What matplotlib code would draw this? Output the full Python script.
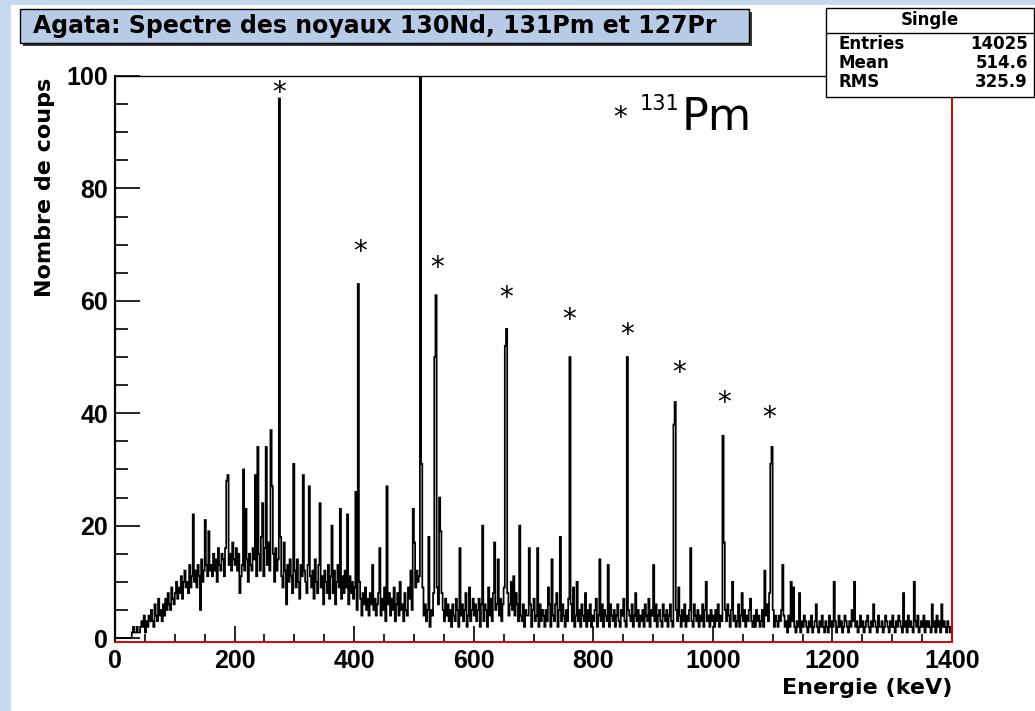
import numpy as np
import matplotlib.pyplot as plt
from matplotlib.patches import Rectangle
from matplotlib.transforms import offset_copy

plt.rcParams['font.family'] = ['DejaVu Sans']

# --- spectre "Single", pas de 2 keV, 0 -> 1400 keV ---
bin_width = 2
counts = [
    0, 0, 0, 0, 0, 0, 0, 0, 0, 0, 0, 0, 0, 0, 1, 2, 1, 1, 2, 1,
    1, 2, 3, 2, 4, 1, 3, 2, 4, 3, 5, 3, 2, 6, 4, 3, 7, 4, 5, 3,
    6, 4, 7, 5, 8, 6, 5, 9, 7, 6, 8, 10, 7, 9, 8, 11, 7, 10, 12, 9,
    10, 8, 13, 9, 11, 22, 10, 12, 9, 13, 11, 5, 14, 10, 12, 21, 13, 11, 19, 12,
    13, 11, 15, 12, 14, 10, 16, 13, 12, 15, 14, 11, 16, 28, 29, 13, 15, 12, 17, 14,
    13, 16, 12, 15, 8, 11, 13, 30, 12, 23, 14, 10, 15, 13, 12, 16, 14, 29, 11, 34,
    15, 12, 18, 24, 11, 16, 34, 13, 17, 12, 37, 27, 15, 10, 16, 12, 14, 96, 18, 11,
    9, 17, 12, 6, 13, 10, 14, 11, 8, 31, 12, 9, 14, 10, 7, 13, 11, 29, 12, 10,
    8, 13, 27, 11, 9, 12, 7, 14, 10, 8, 13, 24, 9, 11, 6, 12, 10, 8, 13, 7,
    11, 20, 8, 12, 6, 10, 13, 9, 23, 7, 11, 8, 12, 9, 22, 6, 11, 8, 10, 7,
    9, 26, 5, 63, 10, 7, 4, 8, 6, 9, 5, 7, 4, 8, 6, 13, 5, 7, 4, 6,
    8, 16, 4, 7, 5, 9, 3, 27, 6, 8, 4, 7, 5, 9, 3, 6, 8, 4, 10, 5,
    6, 3, 8, 5, 4, 9, 7, 12, 5, 23, 17, 9, 12, 10, 11, 105, 31, 9, 4, 6,
    3, 5, 18, 2, 5, 4, 8, 50, 61, 9, 6, 25, 19, 8, 5, 3, 7, 4, 6, 3,
    5, 2, 6, 4, 3, 7, 5, 2, 16, 4, 6, 3, 5, 8, 2, 4, 9, 3, 5, 7,
    4, 6, 3, 5, 7, 2, 6, 20, 3, 6, 5, 2, 9, 4, 7, 3, 8, 17, 5, 6,
    14, 4, 7, 3, 6, 9, 52, 55, 8, 4, 6, 10, 5, 11, 4, 8, 6, 3, 20, 4,
    3, 6, 2, 5, 4, 4, 16, 6, 2, 5, 7, 3, 4, 16, 2, 6, 3, 5, 4, 2,
    5, 3, 9, 6, 2, 14, 4, 3, 6, 8, 2, 5, 18, 3, 6, 4, 2, 5, 3, 7,
    50, 6, 3, 9, 2, 4, 10, 3, 5, 2, 6, 4, 3, 8, 2, 5, 3, 6, 2, 4,
    3, 5, 7, 2, 4, 14, 3, 6, 2, 5, 4, 3, 13, 2, 6, 4, 3, 5, 2, 4,
    6, 3, 2, 5, 4, 7, 3, 2, 50, 5, 4, 3, 6, 2, 4, 8, 3, 5, 2, 4,
    3, 5, 2, 6, 4, 3, 7, 2, 5, 4, 13, 3, 6, 2, 4, 5, 3, 2, 6, 4,
    3, 5, 2, 4, 6, 3, 2, 38, 42, 5, 3, 9, 4, 2, 5, 3, 6, 2, 4, 3,
    5, 16, 3, 2, 6, 4, 3, 5, 2, 4, 3, 6, 2, 5, 10, 3, 4, 2, 5, 3,
    4, 2, 5, 3, 6, 2, 4, 3, 36, 17, 5, 3, 6, 4, 2, 5, 10, 3, 4, 2,
    3, 6, 2, 4, 8, 3, 5, 2, 4, 3, 5, 7, 3, 2, 4, 2, 5, 3, 4, 2,
    3, 5, 2, 12, 4, 6, 3, 8, 31, 34, 5, 2, 4, 3, 2, 4, 3, 5, 13, 4,
    2, 3, 1, 4, 2, 10, 3, 9, 2, 1, 3, 2, 8, 1, 3, 2, 4, 3, 2, 1,
    3, 2, 4, 1, 2, 3, 6, 2, 1, 3, 2, 4, 2, 1, 3, 2, 1, 4, 2, 3,
    2, 10, 3, 1, 2, 4, 2, 3, 1, 2, 4, 3, 2, 1, 3, 2, 5, 3, 10, 2,
    3, 1, 2, 4, 2, 3, 1, 2, 3, 4, 2, 1, 3, 2, 6, 3, 2, 1, 4, 2,
    2, 3, 1, 2, 4, 3, 2, 1, 3, 2, 4, 2, 1, 3, 2, 4, 3, 2, 1, 8,
    2, 3, 1, 4, 2, 3, 2, 1, 10, 3, 2, 4, 1, 2, 3, 2, 4, 1, 3, 2,
    3, 2, 1, 6, 2, 3, 1, 4, 2, 3, 1, 6, 2, 3, 2, 1, 3, 2, 1, 2,
]

# pics du 131Pm marques d'une etoile (keV, hauteur de l'etoile)
star_energy = [274, 410, 538, 654, 759, 856, 943, 1018, 1094]
star_height = [97.9, 69.6, 66.7, 61.4, 57.5, 54.8, 48.0, 42.7, 40.0]

x_ticks = [0, 200, 400, 600, 800, 1000, 1200, 1400]
y_ticks = [0, 20, 40, 60, 80, 100]

stat_names = ['Entries', 'Mean', 'RMS']
stat_values = ['14025', '514.6', '325.9']

W, H = 1035, 711
def fx(px):
    return px / W
def fy(py):
    return 1 - py / H

fig = plt.figure(figsize=(W / 100, H / 100), dpi=100)
fig.patch.set_facecolor('white')

# fond bleu de la diapo
blue_bg = '#c6d9ef'
fig.add_artist(Rectangle((0, 0), fx(11), 1, transform=fig.transFigure,
                         facecolor=blue_bg, edgecolor='none', zorder=0))
fig.add_artist(Rectangle((0, fy(5)), 1, 5 / H, transform=fig.transFigure,
                         facecolor=blue_bg, edgecolor='none', zorder=0))

ax = fig.add_axes([fx(115), fy(642), fx(952) - fx(115), fy(76) - fy(642)])
edges = np.arange(len(counts) + 1) * bin_width
ax.stairs(counts, edges, color='black', linewidth=1.25, baseline=0)

ax.set_xlim(0, 1400)
ax.set_ylim(-0.7, 100)

ax.set_xticks(x_ticks)
ax.set_yticks(y_ticks)
ax.set_xticks(np.arange(0, 1401, 50), minor=True)
ax.set_yticks(np.arange(0, 101, 5), minor=True)
ax.tick_params(axis='both', which='both', direction='in', colors='black',
               labelsize=18, pad=5)
ax.tick_params(axis='y', which='major', length=18, width=1.2)
ax.tick_params(axis='y', which='minor', length=9, width=1.2)
ax.tick_params(axis='x', which='major', length=11.5, width=1.2)
ax.tick_params(axis='x', which='minor', length=6, width=1.2)
for lab in ax.get_xticklabels() + ax.get_yticklabels():
    lab.set_fontweight('bold')
    lab.set_fontfamily('Liberation Sans')

ax.spines['left'].set_linewidth(1.6)
ax.spines['top'].set_linewidth(1.0)
ax.spines['bottom'].set_color('#e00000')
ax.spines['right'].set_color('#e00000')
ax.spines['bottom'].set_linewidth(1.4)
ax.spines['right'].set_linewidth(1.4)

# l'etoile est haute dans sa boite : on la descend pour centrer le glyphe
star_tr = offset_copy(ax.transData, fig=fig, x=0, y=-5, units='dots')
for e, h in zip(star_energy, star_height):
    ax.text(e, h, '*', fontsize=20, ha='center', va='center', color='black',
            transform=star_tr)

fig.text(fx(952), fy(688), 'Energie (keV)', ha='right', va='center',
         fontsize=16, fontweight='bold')
fig.text(fx(45), fy(78), 'Nombre de coups', ha='center', va='top',
         rotation=90, fontsize=16, fontweight='bold')

# legende 131Pm
fig.text(fx(620), fy(113) - 5 / H, '*', fontsize=20, ha='center', va='center')
fig.text(fx(640), fy(104), '131', fontsize=15, ha='left', va='center')
fig.text(fx(682), fy(117), 'Pm', fontsize=32, ha='left', va='center')

# boite du titre avec ombre
fig.add_artist(Rectangle((fx(23), fy(46)), fx(749) - fx(20), (43 - 9) / H,
                         transform=fig.transFigure, facecolor='#3a3a3a',
                         edgecolor='none', zorder=5))
fig.add_artist(Rectangle((fx(20), fy(43)), fx(749) - fx(20), (43 - 9) / H,
                         transform=fig.transFigure, facecolor='#b7cbe7',
                         edgecolor='black', linewidth=1.0, zorder=6))
fig.text(fx(33), fy(26), 'Agata: Spectre des noyaux 130Nd, 131Pm et 127Pr',
         ha='left', va='center', fontsize=17, fontweight='bold', zorder=7)

# boite de statistiques
fig.add_artist(Rectangle((fx(826), fy(97)), fx(1034) - fx(826), (97 - 8) / H,
                         transform=fig.transFigure, facecolor='white',
                         edgecolor='black', linewidth=1.0, zorder=5))
fig.add_artist(plt.Line2D([fx(826), fx(1034)], [fy(33), fy(33)],
                          transform=fig.transFigure, color='black',
                          linewidth=1.0, zorder=6))
fig.text(fx(930), fy(20), 'Single', ha='center', va='center', fontsize=12,
         fontweight='bold', zorder=7)
for i, (n, v) in enumerate(zip(stat_names, stat_values)):
    y = fy(44 + i * 19)
    fig.text(fx(838), y, n, ha='left', va='center', fontsize=12,
             fontweight='bold', zorder=7)
    fig.text(fx(1028), y, v, ha='right', va='center', fontsize=12,
             fontweight='bold', zorder=7)

fig.savefig('out.png', dpi=100)
